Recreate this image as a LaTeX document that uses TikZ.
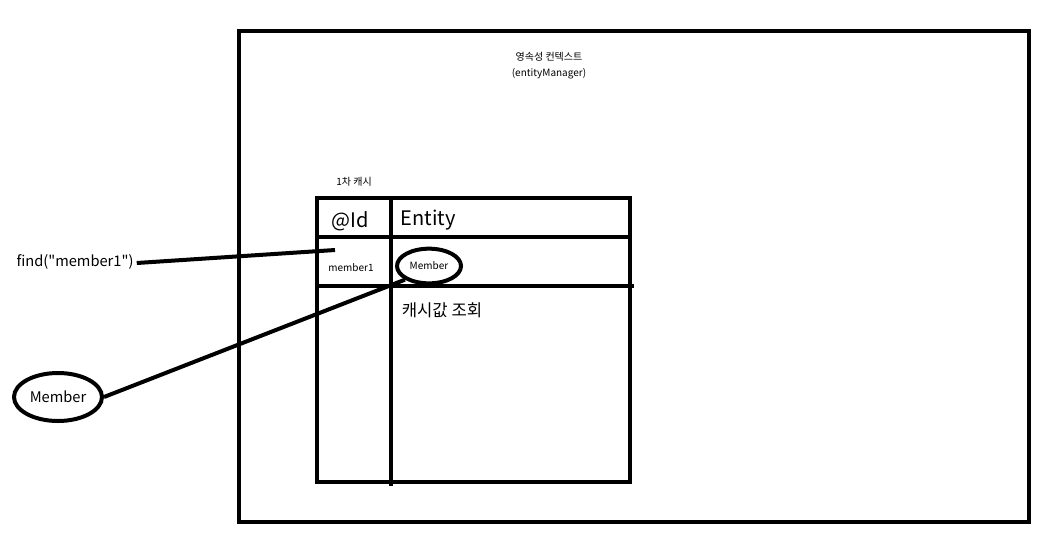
\documentclass[tikz,border=0pt]{standalone}
\usepackage{fontspec}
\setmainfont{Noto Sans CJK KR}[Ligatures=TeXOff]
\usetikzlibrary{shapes.geometric}
\begin{document}
\begin{tikzpicture}[x=0.75pt,y=-0.75pt,
  thick line/.style={line width=3pt},
  lbl/.style={inner sep=0pt,anchor=center},
  oval/.style={draw,ellipse,line width=3pt,inner sep=0pt}]
\useasboundingbox (0,0) rectangle (1048,540);
% outer context box
\draw[thick line] (239,31) rectangle (1029,522);
\node[lbl,font=\fontsize{7.5}{9}\selectfont] (title) at (549,57) {영속성 컨텍스트};
\node[lbl,font=\fontsize{7.5}{9}\selectfont] (title2) at (549,74) {(entityManager)};
% cache table
\node[lbl,font=\fontsize{7.5}{9}\selectfont] (cache) at (354,182) {1차 캐시};
\draw[thick line] (317,198) rectangle (630,482);
\draw[thick line] (391,198) -- (391,486);
\draw[thick line] (317,237) -- (630,237);
\draw[thick line] (317,286) -- (634,286);
\node[lbl,font=\fontsize{15}{18}\selectfont] (id) at (350,221) {@Id};
\node[lbl,font=\fontsize{15}{18}\selectfont] (entity) at (428,220) {Entity};
\node[lbl,font=\fontsize{7.5}{9}\selectfont] (key) at (351,268) {member1};
\node[oval,font=\fontsize{7.5}{9}\selectfont,minimum width=48pt,minimum height=26pt] (val) at (429,266) {Member};
\node[lbl,font=\fontsize{12.5}{15}\selectfont] (lookup) at (442,310) {캐시값 조회};
% outside
\node[lbl,font=\fontsize{11}{13}\selectfont] (find) at (75,262) {find("member1")};
\coordinate (findend) at (335,250);
\draw[thick line] (find.east) ++(3,1) -- (findend);
\node[oval,font=\fontsize{11}{13}\selectfont,minimum width=66pt,minimum height=36pt] (member) at (58,397) {Member};
\draw[thick line] (member.east) -- (val.south west);
\end{tikzpicture}
\end{document}
